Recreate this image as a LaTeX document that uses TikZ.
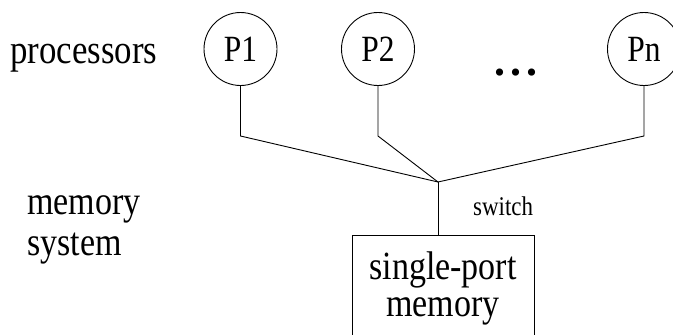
\documentclass[tikz,border=0pt]{standalone}
\usepackage{graphicx}
\usepackage{fontspec}
\setmainfont{Liberation Serif}
\newcommand{\nx}[1]{\scalebox{0.85}[1]{#1}}
\begin{document}
\begin{tikzpicture}[x=1pt,y=-1pt,
  wire/.style={line width=0.9pt},
  proc/.style={draw,circle,line width=0.9pt,minimum size=73pt,inner sep=0pt,font=\fontsize{37}{37}\selectfont},
  lbl/.style={inner sep=0pt,anchor=base west,font=\fontsize{41}{41}\selectfont},
  memsys/.style={inner sep=0pt,anchor=base west,align=left,font=\fontsize{40}{41}\selectfont},
  membox/.style={draw,line width=0.9pt,anchor=north,minimum width=182pt,inner ysep=16pt,align=center,font=\fontsize{40}{37}\selectfont},
  small/.style={inner sep=0pt,anchor=base west,font=\fontsize{27}{27}\selectfont}]
\useasboundingbox (0,0) rectangle (673,335);
\node[proc] (p1) at (240.5,49) {\nx{P1}};
\node[proc] (p2) at (378,49) {\nx{P2}};
\node[proc] (pn) at (644,49) {\nx{Pn}};
\node[inner sep=0pt,anchor=base,font=\fontsize{44}{44}\selectfont] (dots) at (516,75) {\textbf{.\kern5pt.\kern5pt.}};
\node[lbl] (procs) at (10,63) {\nx{processors}};
\node[memsys] (msys) at (27,255) {\nx{memory}\\\nx{system}};
\coordinate (j) at (438,182);
\coordinate (b1) at (240.5,136);
\coordinate (b2) at (378,136);
\coordinate (bn) at (644,136);
\node[membox] (mem) at (443,235) {\nx{single-port}\\\nx{memory}};
\node[small] (sw) at (473,215) {\nx{switch}};
\draw[wire] (p1.south) -- (b1) -- (j);
\draw[wire] (p2.south) -- (b2) -- (j);
\draw[wire] (pn.south) -- (bn) -- (j);
\draw[wire] (j) -- (j |- mem.north);
\end{tikzpicture}
\end{document}
